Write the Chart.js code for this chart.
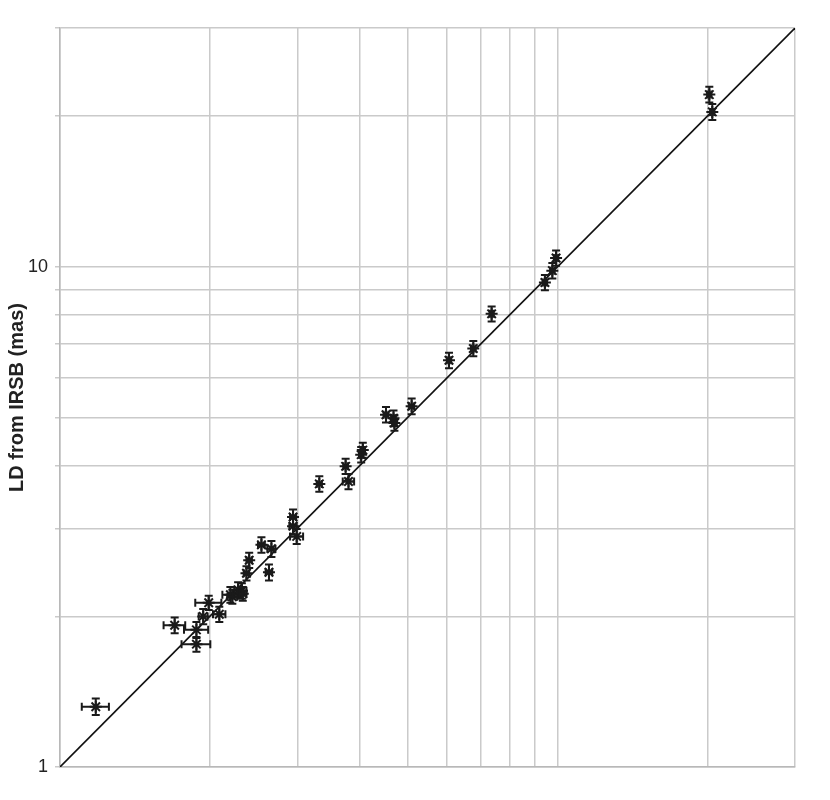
<!DOCTYPE html>
<html>
<head>
<meta charset="utf-8">
<script src="https://cdn.jsdelivr.net/npm/chart.js@4/dist/chart.umd.min.js"></script>
<style>
  html, body { margin: 0; padding: 0; background: #fff; }
  #wrap { width: 830px; height: 800px; }
</style>
</head>
<body>
<div id="wrap"><canvas id="chartLdCompare"></canvas></div>
<script>
// LD from interferometry (x) vs LD from IRSB (y), both in mas
const ldInterf = [1.18, 1.70, 1.88, 1.88, 1.94, 1.99, 2.09, 2.20, 2.22, 2.28, 2.32, 2.33, 2.37, 2.40,
    2.54, 2.66, 2.63, 2.94, 2.94, 2.99, 3.32, 3.75, 3.80, 4.03, 4.06, 4.52, 4.68, 4.70, 5.09,
    6.05, 6.77, 7.37, 9.43, 9.76, 9.93, 20.18, 20.46];
const ldIrsb = [1.32, 1.92, 1.88, 1.76, 2.00, 2.13, 2.02, 2.21, 2.19, 2.26, 2.25, 2.22, 2.44, 2.59,
    2.78, 2.73, 2.45, 3.16, 3.03, 2.89, 3.68, 3.99, 3.72, 4.21, 4.30, 5.06, 4.98, 4.87, 5.26,
    6.50, 6.86, 8.05, 9.30, 9.82, 10.41, 22.08, 20.39];
const errInterf = [0.074, 0.085, 0.105, 0.125, 0.04, 0.12, 0.06, 0.08, 0.05, 0.04, 0.05, 0.04, 0.03, 0.03,
    0.04, 0.05, 0.04, 0.04, 0.05, 0.09, 0.04, 0.04, 0.10, 0.04, 0.04, 0.05, 0.05, 0.05, 0.06,
    0.06, 0.07, 0.07, 0.09, 0.10, 0.10, 0.20, 0.20];
const errIrsb = [0.05, 0.07, 0.07, 0.06, 0.07, 0.07, 0.07, 0.08, 0.07, 0.08, 0.08, 0.07, 0.08, 0.09,
    0.10, 0.10, 0.09, 0.11, 0.11, 0.10, 0.13, 0.14, 0.13, 0.15, 0.15, 0.18, 0.18, 0.17, 0.19,
    0.23, 0.24, 0.28, 0.33, 0.35, 0.37, 0.80, 0.75];
const axisMin = 1;
const axisMax = 30;
const gridTicks = [1, 2, 3, 4, 5, 6, 7, 8, 9, 10, 20, 30];
const yLabelTicks = [1, 10];

const points = ldInterf.map(function(v, i) {
    return {x: v, y: ldIrsb[i], ex: errInterf[i], ey: errIrsb[i]};
});

// draws x and y error bars with caps
const errorBars = {
    id: 'errorBars',
    afterDatasetsDraw: function(chart) {
        const ctx = chart.ctx;
        const xs = chart.scales.x;
        const ys = chart.scales.y;
        const cap = 4;
        ctx.save();
        ctx.strokeStyle = '#1a1a1a';
        ctx.lineWidth = 2;
        chart.data.datasets[0].data.forEach(function(p) {
            const px = xs.getPixelForValue(p.x);
            const py = ys.getPixelForValue(p.y);
            const x0 = xs.getPixelForValue(p.x - p.ex);
            const x1 = xs.getPixelForValue(p.x + p.ex);
            const y0 = ys.getPixelForValue(p.y - p.ey);
            const y1 = ys.getPixelForValue(p.y + p.ey);
            ctx.beginPath();
            ctx.moveTo(x0, py); ctx.lineTo(x1, py);
            ctx.moveTo(x0, py - cap); ctx.lineTo(x0, py + cap);
            ctx.moveTo(x1, py - cap); ctx.lineTo(x1, py + cap);
            ctx.moveTo(px, y0); ctx.lineTo(px, y1);
            ctx.moveTo(px - cap, y0); ctx.lineTo(px + cap, y0);
            ctx.moveTo(px - cap, y1); ctx.lineTo(px + cap, y1);
            ctx.stroke();
        });
        ctx.restore();
    }
};

function fixedTicks(scale) {
    scale.ticks = gridTicks.map(function(v) { return {value: v}; });
}

new Chart(document.getElementById('chartLdCompare'), {
    type: 'scatter',
    plugins: [errorBars],
    data: {
        datasets: [{
            label: 'stars',
            data: points,
            pointStyle: 'star',
            pointRadius: 6,
            pointBorderWidth: 2,
            borderColor: '#1a1a1a',
            backgroundColor: '#1a1a1a',
            order: 1
        }, {
            type: 'line',
            label: '1:1',
            data: [{x: axisMin, y: axisMin}, {x: axisMax, y: axisMax}],
            borderColor: '#111',
            borderWidth: 1.6,
            pointRadius: 0,
            fill: false,
            order: 2
        }]
    },
    options: {
        responsive: true,
        maintainAspectRatio: false,
        animation: false,
        layout: {
            padding: {left: 0, top: 28, right: 35, bottom: 33}
        },
        plugins: {
            legend: {display: false},
            tooltip: {enabled: false}
        },
        scales: {
            x: {
                type: 'logarithmic',
                min: axisMin,
                max: axisMax,
                afterBuildTicks: fixedTicks,
                grid: {color: '#cacaca', lineWidth: 1.5, drawTicks: false},
                border: {color: '#b8b8b8', width: 1.5},
                ticks: {display: false, autoSkip: false},
                afterFit: function(scale) { scale.height = 0; }
            },
            y: {
                type: 'logarithmic',
                min: axisMin,
                max: axisMax,
                afterBuildTicks: fixedTicks,
                grid: {color: '#cacaca', lineWidth: 1.5, tickLength: 5},
                border: {color: '#b8b8b8', width: 1.5},
                ticks: {
                    autoSkip: false,
                    padding: 7,
                    color: '#222',
                    font: {family: '"Liberation Sans", Arial, sans-serif', size: 18},
                    callback: function(value) {
                        return yLabelTicks.indexOf(value) >= 0 ? String(value) : '';
                    }
                },
                title: {
                    display: true,
                    text: 'LD from IRSB (mas)',
                    color: '#222',
                    padding: {top: 5, bottom: 0},
                    font: {family: '"Liberation Sans", Arial, sans-serif', size: 20, weight: 'bold'}
                },
                afterFit: function(scale) { scale.width = 60; }
            }
        }
    }
});
</script>
</body>
</html>
